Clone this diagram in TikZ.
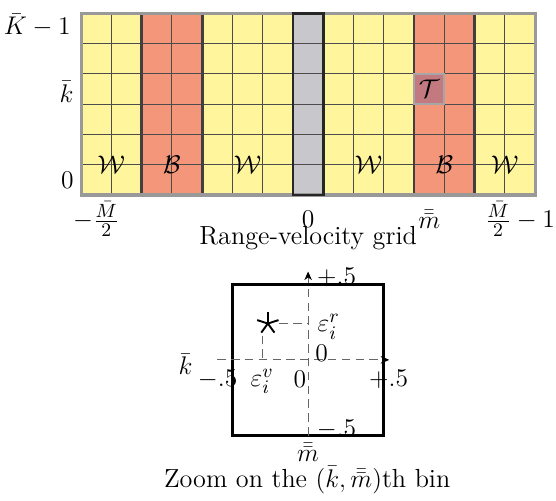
\documentclass[tikz,border=0pt]{standalone}
\usepackage{amsmath}
\usepackage{tikz}
\usetikzlibrary{arrows.meta, calc, positioning}
\definecolor{BinYellow}{HTML}{FFF59C}
\definecolor{BinSalmon}{HTML}{F4967A}
\definecolor{BinGray}{HTML}{C8C8CC}
\definecolor{BinTarget}{HTML}{C27A80}

\begin{document}
\begin{tikzpicture}[
    x=0.5cm, y=0.5cm,
    font=\fontsize{12.3}{14}\selectfont,
    wband/.style={fill=BinYellow},
    bband/.style={fill=BinSalmon},
    zband/.style={fill=BinGray},
    tcell/.style={fill=BinTarget, draw=black!35, line width=0.8pt, minimum size=0.5cm, inner sep=0pt},
    cellgrid/.style={draw=black!70, line width=0.5pt},
    bandsep/.style={draw=black!75, line width=1.3pt},
    border/.style={draw=black!40, line width=1.5pt},
    axis/.style={draw=black!60, line width=0.5pt, dash pattern=on 4pt off 2.5pt},
    axtip/.style={-{Stealth[length=4pt, width=3.5pt, inset=1.2pt, black]}},
    zbox/.style={draw=black, line width=1.4pt}
]
\useasboundingbox (-2.68,-10.08) rectangle (15.69,6.44);

% range-velocity grid
\foreach \a/\b in {0/2, 4/7, 8/11, 13/15}
    \fill[wband] (\a,0) rectangle (\b,6);
\foreach \a/\b in {2/4, 11/13}
    \fill[bband] (\a,0) rectangle (\b,6);
\fill[zband] (7,0) rectangle (8,6);

\draw[cellgrid] (0,0) grid[step=1] (15,6);
\foreach \a in {2,4,11,13}
    \draw[bandsep] (\a,0) -- (\a,6);
\draw[border] (0,0) rectangle (15,6);
\draw[bandsep, draw=black!85] (7,0) rectangle (8,6);

\node[tcell] (T) at (11.5,3.5) {$\mathcal{T}$};

\foreach \x/\t/\n in {1/W/wa, 3/B/ba, 5.5/W/wb, 9.5/W/wc, 12/B/bb, 14/W/wd}
    \node (\n) at (\x,1) {$\mathcal{\t}$};

% axis labels
\node[left] (kmax) at (-0.1,5.6) {$\bar{K}-1$};
\node[left] (kbar) at (0,3.4) {$\bar{k}$};
\node[left] (kzero) at (0,0.5) {$0$};

\node (mmin) at (0.5,-0.8) {$-\frac{\bar{M}}{2}$};
\node (mzero) at (7.5,-0.8) {$0$};
\node (mbin) at (11.5,-0.8) {$\bar{\bar{m}}$};
\node (mmax) at (14.5,-0.8) {$\frac{\bar{M}}{2}-1$};

\node (capgrid) at (7.5,-1.42) {Range-velocity grid};

% zoom on one bin
\begin{scope}[shift={(7.5,-5.45)}]
\draw[zbox] (-2.5,-2.5) rectangle (2.5,2.5);
\coordinate (hl) at (-3,0);
\coordinate (hr) at (2.68,0);
\coordinate (vb) at (0,-2.5);
\coordinate (vt) at (0,2.92);
\draw[axis, axtip] (hl) -- (hr);
\draw[axis, axtip] (vb) -- (vt);

\coordinate (s) at (-1.33,1.2);
\foreach \ang in {90,162,234,306,378}
    \draw[line width=0.9pt] (s) -- ++(\ang:0.37);
\draw[axis] ($(s)+(0.38,0)$) -- (s -| vt);
\draw[axis] ($(s)+(-0.17,-0.4)$) -- ($(s |- hl)+(-0.17,0)$);

\node (epr) at (0.68,1.09) {$\varepsilon_i^r$};
\node (epv) at (-1.52,-0.71) {$\varepsilon_i^v$};
\node (ztop) at (0.94,2.72) {$+.5$};
\node (zbot) at (0.94,-2.31) {$-.5$};
\node (zup) at (0.45,0.21) {$0$};
\node (zlo) at (-0.27,-0.65) {$0$};
\node (zleft) at (-2.99,-0.65) {$-.5$};
\node (zright) at (2.66,-0.65) {$+.5$};
\node (zk) at (-4.05,-0.15) {$\bar{k}$};
\node (zm) at (0,-3.06) {$\bar{\bar{m}}$};
\end{scope}

\node (capzoom) at (7.47,-9.42) {Zoom on the $(\bar{k},\bar{\bar{m}})$th bin};

\end{tikzpicture}
\end{document}
